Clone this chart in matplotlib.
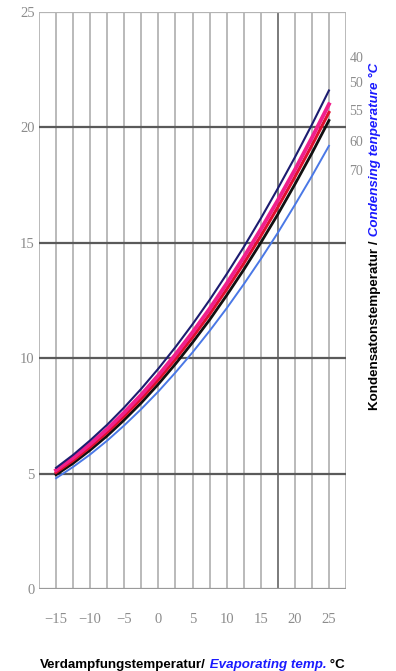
import matplotlib
matplotlib.use("Agg")
import matplotlib.pyplot as plt
import numpy as np

# Evaporating temperature (°C)
evap_temp = [-15, -12.5, -10, -7.5, -5, -2.5, 0, 2.5, 5, 7.5, 10, 12.5, 15, 17.5, 20, 22.5, 25]

# One curve per condensing temperature
cond_40 = [5.25, 5.81, 6.44, 7.12, 7.87, 8.68, 9.55, 10.48, 11.47, 12.52, 13.64, 14.81, 16.05, 17.35, 18.70, 20.12, 21.60]
cond_50 = [5.15, 5.68, 6.28, 6.93, 7.65, 8.42, 9.26, 10.16, 11.12, 12.14, 13.23, 14.37, 15.58, 16.84, 18.16, 19.55, 21.00]
cond_55 = [5.05, 5.57, 6.15, 6.79, 7.49, 8.25, 9.07, 9.96, 10.90, 11.90, 12.98, 14.10, 15.29, 16.54, 17.85, 19.22, 20.65]
cond_60 = [4.95, 5.45, 6.02, 6.64, 7.33, 8.07, 8.88, 9.75, 10.68, 11.66, 12.72, 13.83, 15.00, 16.23, 17.53, 18.88, 20.30]
cond_70 = [4.80, 5.29, 5.83, 6.43, 7.09, 7.80, 8.56, 9.38, 10.25, 11.18, 12.16, 13.20, 14.29, 15.43, 16.64, 17.89, 19.20]

cond_labels = ["40", "50", "55", "60", "70"]
x_ticks = [-15, -10, -5, 0, 5, 10, 15, 20, 25]
x_tick_labels = ["−15", "−10", "−5", "0", "5", "10", "15", "20", "25"]
y_ticks = [0, 5, 10, 15, 20, 25]

num_font = ["Liberation Serif", "DejaVu Serif"]
num_color = "#8c8c8c"

fig = plt.figure(figsize=(3.96, 6.71), dpi=100)
ax = fig.add_axes([39 / 396, 1 - 589 / 671, (346 - 39) / 396, (589 - 12) / 671])

ax.set_xlim(-17.5, 27.5)
ax.set_ylim(0, 25)

# light vertical grid every 2.5 °C
for xv in np.arange(-17.5, 27.6, 2.5):
    ax.axvline(xv, color="#b4b4b4", lw=1.3, zorder=1)
ax.axvline(17.5, color="#777777", lw=1.3, zorder=1)

# dark horizontal grid every 5 units
for yv in [5, 10, 15, 20]:
    ax.axhline(yv, color="#5a5a5a", lw=1.6, zorder=1)
ax.axhline(25, color="#b4b4b4", lw=1.6, zorder=1)
ax.axhline(0, color="#9a9a9a", lw=1.6, zorder=1)

for s in ax.spines.values():
    s.set_visible(False)

# curves
ax.plot(evap_temp, cond_70, color="#4a78e6", lw=1.4, zorder=3)
ax.plot(evap_temp, cond_60, color="#111111", lw=2.0, zorder=4)
ax.plot(evap_temp, cond_55, color="#e0102e", lw=2.2, zorder=5)
ax.plot(evap_temp, cond_50, color="#f0208c", lw=2.8, zorder=6)
ax.plot(evap_temp, cond_40, color="#1c1c70", lw=1.5, zorder=7)

ax.set_xticks(x_ticks)
ax.set_xticklabels(x_tick_labels)
ax.set_yticks(y_ticks)
ax.tick_params(length=0, labelcolor=num_color, labelsize=10.5)
ax.tick_params(axis="x", pad=17)
ax.tick_params(axis="y", pad=3)
for lab in ax.get_xticklabels() + ax.get_yticklabels():
    lab.set_family(num_font)

# condensing temperature labels on the right
label_y = [23.0, 21.9, 20.7, 19.35, 18.1]
for txt, yv in zip(cond_labels, label_y):
    ax.text(29.0, yv, txt, color=num_color, fontsize=10, family=num_font,
            ha="center", va="center", clip_on=False)

# bottom axis title, two colours
bold = dict(fontsize=9.6, fontweight="bold", family="Liberation Sans")
t1 = fig.text(40 / 396, 1 - 668 / 671, "Verdampfungstemperatur/", color="black",
              ha="left", va="baseline", **bold)
t2 = ax.annotate(" Evaporating temp.", xy=(1, 0), xycoords=t1, color="#1a1aff",
                 style="italic", ha="left", va="bottom", annotation_clip=False, **bold)
t3 = ax.annotate(" °C", xy=(1, 0), xycoords=t2, color="black",
                 ha="left", va="bottom", annotation_clip=False, **bold)

# right axis title, two colours, reading upwards
r1 = fig.text(369 / 396, 1 - 410 / 671, "Kondensatonstemperatur /", color="black",
              rotation=90, ha="left", va="bottom", **bold)
r2 = ax.annotate(" Condensing tenperature °C", xy=(0, 1), xycoords=r1, color="#1a1aff",
                 style="italic", rotation=90, ha="left", va="bottom",
                 annotation_clip=False, **bold)

fig.savefig("out.png", dpi=100)
